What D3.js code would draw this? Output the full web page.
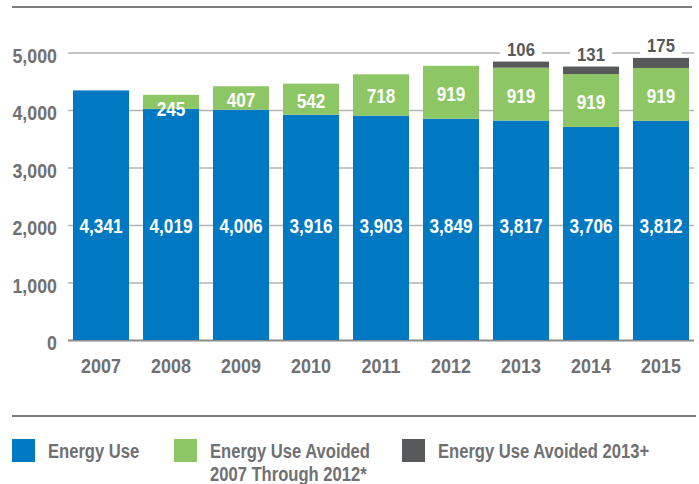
<!DOCTYPE html>
<html>
<head>
<meta charset="utf-8">
<script src="https://cdn.jsdelivr.net/npm/d3@7"></script>
<style>
  body { margin: 0; background: #fff; }
  svg text { font-family: "Liberation Sans", Arial, sans-serif; font-weight: bold; }
</style>
</head>
<body>
<div id="chart"></div>
<script>
// data
const years = ["2007", "2008", "2009", "2010", "2011", "2012", "2013", "2014", "2015"];
const energyUse = [4341, 4019, 4006, 3916, 3903, 3849, 3817, 3706, 3812];
const avoided0712 = [0, 245, 407, 542, 718, 919, 919, 919, 919];
const avoided2013 = [0, 0, 0, 0, 0, 0, 106, 131, 175];
const yTicks = [0, 1000, 2000, 3000, 4000, 5000];
const seriesNames = ["Energy Use", "Energy Use Avoided\n2007 Through 2012*", "Energy Use Avoided 2013+"];
const colors = ["#0079c2", "#8cc665", "#58595b"];

const W = 699, H = 484;
const textGray = "#707073";

// fake a condensed face: shrink each text horizontally
function squeeze(sel, k) {
    sel.each(function () {
        const len = this.getComputedTextLength();
        d3.select(this)
            .attr("textLength", len * k)
            .attr("lengthAdjust", "spacingAndGlyphs");
    });
}

const svg = d3.select("#chart").append("svg")
    .attr("width", W)
    .attr("height", H);

// x and y scales
const x = d3.scaleBand().domain(years).range([66, 696]).paddingInner(0.2).paddingOuter(0.1);
const y = d3.scaleLinear().domain([0, 5000]).range([340, 52.5]);

// top rule
svg.append("line")
    .attr("x1", 12).attr("x2", 692)
    .attr("y1", 7).attr("y2", 7)
    .attr("stroke", "#7d7d7d").attr("stroke-width", 2);

// y axis with gridlines
const yAxis = d3.axisLeft(y)
    .tickValues(yTicks)
    .tickSize(-(694 - 68))
    .tickPadding(11)
    .tickFormat(d3.format(","));

const yG = svg.append("g")
    .attr("transform", "translate(68,0)")
    .call(yAxis);
yG.select(".domain").remove();
yG.selectAll(".tick line")
    .attr("stroke", d => d === 0 ? "#8a8a8a" : "#b3b3b3")
    .attr("stroke-width", d => d === 0 ? 2 : 1.5);
yG.selectAll(".tick text")
    .attr("fill", textGray)
    .attr("font-size", 20)
    .attr("dy", 9.5)
    .call(squeeze, 0.89);

// stacked rows
const rows = years.map((yr, i) => ({
    year: yr,
    use: energyUse[i],
    a1: avoided0712[i],
    a2: avoided2013[i]
}));

const bars = svg.append("g");

// blue energy use
bars.selectAll(".use").data(rows).enter().append("rect")
    .attr("class", "use")
    .attr("x", d => x(d.year))
    .attr("width", x.bandwidth())
    .attr("y", d => y(d.use))
    .attr("height", d => y(0) - y(d.use))
    .attr("fill", colors[0]);

// green avoided 2007-2012
bars.selectAll(".a1").data(rows.filter(d => d.a1 > 0)).enter().append("rect")
    .attr("class", "a1")
    .attr("x", d => x(d.year))
    .attr("width", x.bandwidth())
    .attr("y", d => y(d.use + d.a1))
    .attr("height", d => y(d.use) - y(d.use + d.a1))
    .attr("fill", colors[1]);

// dark avoided 2013+
bars.selectAll(".a2").data(rows.filter(d => d.a2 > 0)).enter().append("rect")
    .attr("class", "a2")
    .attr("x", d => x(d.year))
    .attr("width", x.bandwidth())
    .attr("y", d => y(d.use + d.a1 + d.a2))
    .attr("height", d => y(d.use + d.a1) - y(d.use + d.a1 + d.a2))
    .attr("fill", colors[2]);

// labels
const fmt = d3.format(",");
const cx = d => x(d.year) + x.bandwidth() / 2;

bars.selectAll(".useLabel").data(rows).enter().append("text")
    .attr("class", "useLabel")
    .attr("x", cx)
    .attr("y", 233)
    .attr("text-anchor", "middle")
    .attr("fill", "#fff")
    .attr("font-size", 20.5)
    .text(d => fmt(d.use))
    .call(squeeze, 0.84);

bars.selectAll(".a1Label").data(rows.filter(d => d.a1 > 0)).enter().append("text")
    .attr("class", "a1Label")
    .attr("x", cx)
    .attr("y", d => Math.max((y(d.use) + y(d.use + d.a1)) / 2 + 8.5, y(d.use + d.a1) + 21))
    .attr("text-anchor", "middle")
    .attr("fill", "#fff")
    .attr("font-size", 20.5)
    .text(d => fmt(d.a1))
    .call(squeeze, 0.84);

const a2Labels = bars.selectAll(".a2Label").data(rows.filter(d => d.a2 > 0)).enter().append("g")
    .attr("class", "a2Label")
    .attr("transform", d => "translate(" + cx(d) + "," + (y(d.use + d.a1 + d.a2) - 6) + ")");

a2Labels.append("rect")
    .attr("x", -21).attr("width", 42)
    .attr("y", -16).attr("height", 18)
    .attr("fill", "#fff");

a2Labels.append("text")
    .attr("text-anchor", "middle")
    .attr("fill", "#58595b")
    .attr("font-size", 18.5)
    .text(d => fmt(d.a2))
    .call(squeeze, 0.9);

// x axis labels
const xAxis = d3.axisBottom(x).tickSize(0).tickPadding(0);
const xG = svg.append("g")
    .attr("transform", "translate(0,373)")
    .call(xAxis);
xG.select(".domain").remove();
xG.selectAll(".tick text")
    .attr("fill", textGray)
    .attr("font-size", 19.5)
    .attr("dy", 0)
    .call(squeeze, 0.92);

// bottom rule
svg.append("line")
    .attr("x1", 12).attr("x2", 696)
    .attr("y1", 416).attr("y2", 416)
    .attr("stroke", "#7d7d7d").attr("stroke-width", 2);

// legend (text squeezed with a scale so its box stays honest)
const legendX = [12, 174, 402];
const legend = svg.append("g");
seriesNames.forEach((name, i) => {
    legend.append("rect")
        .attr("x", legendX[i]).attr("y", 439)
        .attr("width", 23).attr("height", 23)
        .attr("fill", colors[i]);
    name.split("\n").forEach((line, j) => {
        legend.append("g")
            .attr("transform", "translate(" + (legendX[i] + 36) + "," + (458 + j * 23) + ") scale(0.79,1)")
            .append("text")
            .attr("fill", textGray)
            .attr("font-size", 21)
            .text(line);
    });
});
</script>
</body>
</html>
